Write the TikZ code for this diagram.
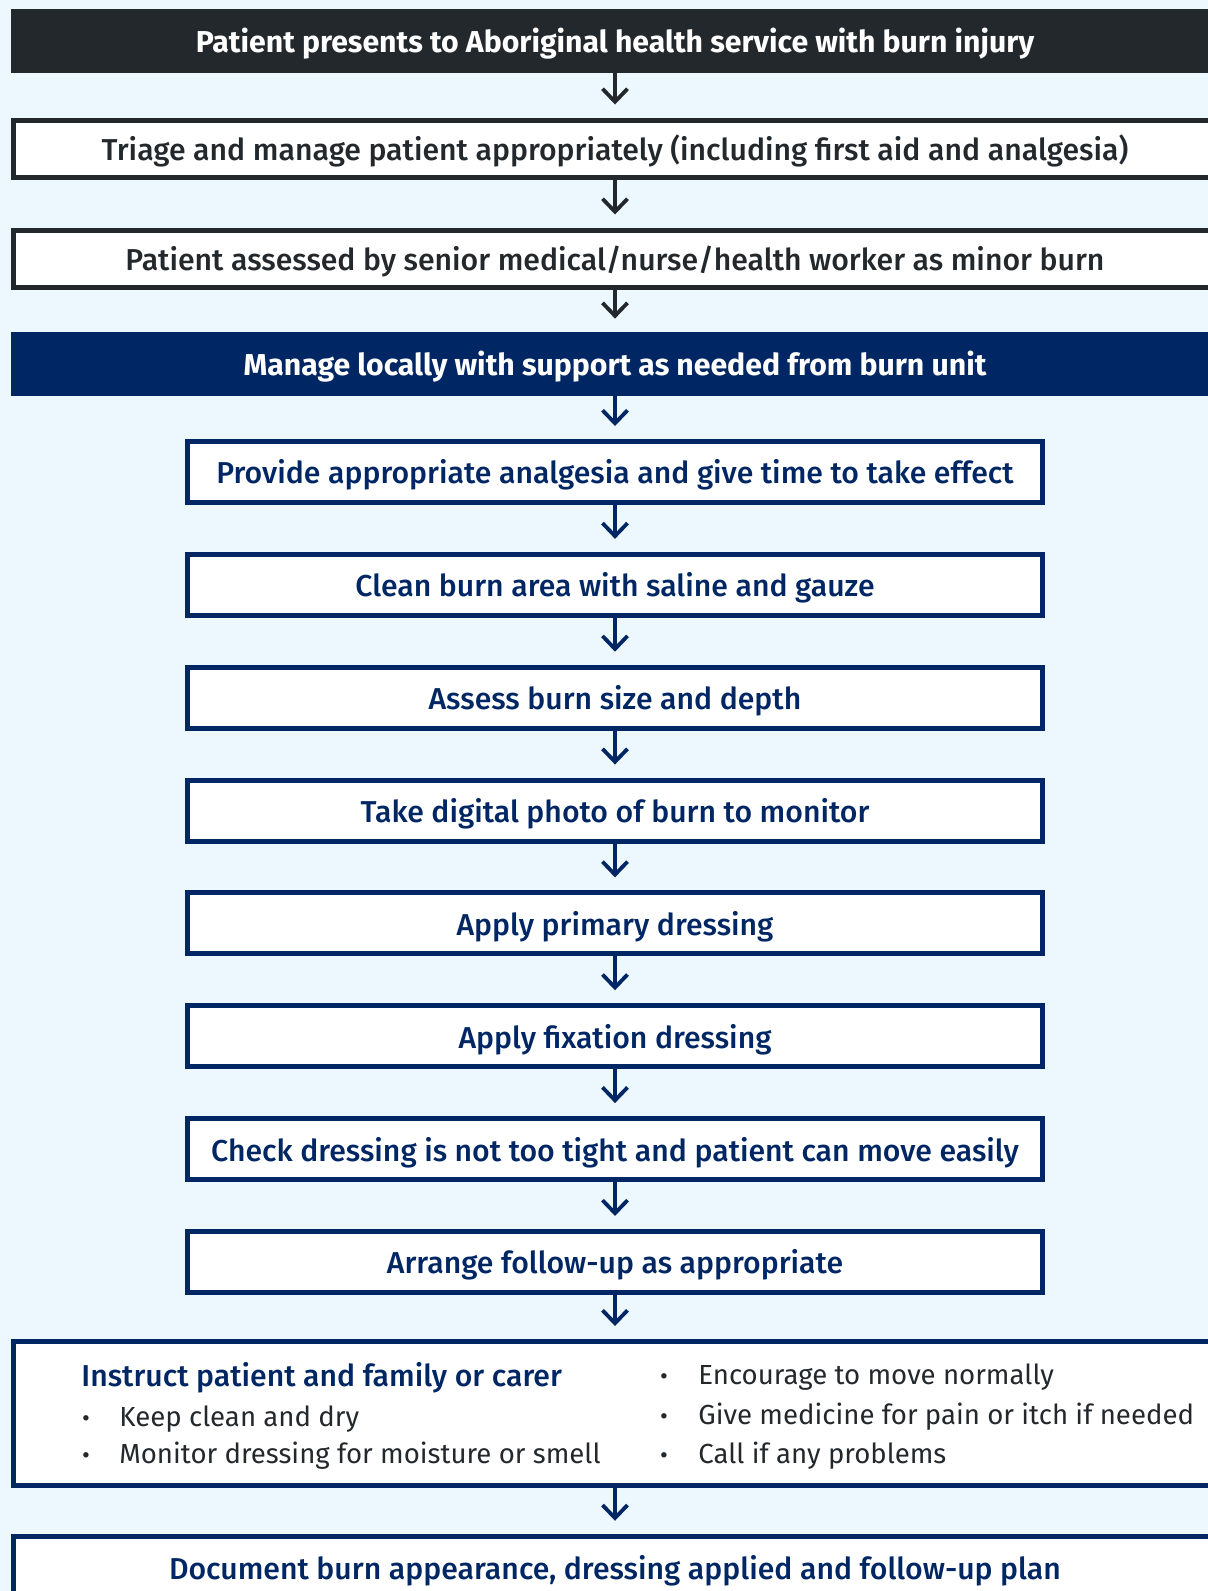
\documentclass[tikz,border=0pt]{standalone}
\usepackage{fontspec}
\setmainfont{Fira Sans}
\newfontfamily\medfont{Fira Sans Medium}
\usetikzlibrary{arrows.meta,positioning}

\definecolor{dark}{RGB}{35,40,45}
\definecolor{navy}{RGB}{0,38,100}
\definecolor{paleblue}{RGB}{236,247,254}

\tikzset{
	banner/.style={fill=#1, text=white, font=\bfseries\fontsize{15.1}{18}\selectfont,
		text height=11.9pt, text depth=0pt,
		minimum width=604pt, minimum height=32pt, inner sep=0pt},
	widebox/.style={draw=#1, line width=2.5pt, fill=white, text=#1,
		font=\medfont\fontsize{15.1}{18}\selectfont, text height=11.9pt, text depth=0pt,
		minimum width=601.5pt, minimum height=28.5pt, inner sep=0pt},
	stepbox/.style={draw=navy, line width=2.5pt, fill=white, text=navy,
		font=\medfont\fontsize{15.1}{18}\selectfont, text height=11.9pt, text depth=0pt,
		minimum width=427.5pt, minimum height=30.5pt, inner sep=0pt},
	flow/.style={line width=1.9pt, -{Straight Barb[length=6.5pt, width=12.5pt, line width=1.9pt]},
		shorten >=6.5pt},
	item/.style={anchor=west, inner sep=0pt, text=dark, font=\fontsize{13.8}{16}\selectfont,
		text height=11.5pt, text depth=0pt},
	dot/.style={anchor=center, inner sep=0pt, text=dark, font=\fontsize{12}{13}\selectfont,
		yshift=-3.2pt},
}

\begin{document}
\begin{tikzpicture}[x=0.5pt, y=-0.5pt]
	\fill[paleblue] (0,0) rectangle (1208,1591);
	\useasboundingbox (0,0) rectangle (1208,1591);

	\node[banner=dark] (present) at (615,41) {Patient presents to Aboriginal health service with burn injury};
	\node[widebox=dark] (triage) at (615,148.5) {Triage and manage patient appropriately (including first aid and analgesia)};
	\node[widebox=dark] (assess) at (615,258.5) {Patient assessed by senior medical/nurse/health worker as minor burn};
	\node[banner=navy] (local) at (615,364) {Manage locally with support as needed from burn unit};

	\node[stepbox] (analg) at (615,472) {Provide appropriate analgesia and give time to take effect};
	\node[stepbox] (clean) at (615,584.85) {Clean burn area with saline and gauze};
	\node[stepbox] (size) at (615,697.7) {Assess burn size and depth};
	\node[stepbox] (photo) at (615,810.55) {Take digital photo of burn to monitor};
	\node[stepbox] (primary) at (615,923.4) {Apply primary dressing};
	\node[stepbox] (fixation) at (615,1036.25) {Apply fixation dressing};
	\node[stepbox] (check) at (615,1149.1) {Check dressing is not too tight and patient can move easily};
	\node[stepbox] (follow) at (615,1261.95) {Arrange follow-up as appropriate};

	% instructions box
	\node[widebox=navy, minimum height=72pt] (instruct) at (615,1413.5) {};
	\node[anchor=west, inner sep=0pt, text=navy, font=\medfont\fontsize{15.1}{18}\selectfont,
		text height=11.9pt, text depth=0pt] (insthead) at (81,1375) {Instruct patient and family or carer};
	\node[dot] (d1) at (86,1415) {•};
	\node[item] (i1) at (119,1415) {Keep clean and dry};
	\node[dot] (d2) at (86,1452) {•};
	\node[item] (i2) at (119,1452) {Monitor dressing for moisture or smell};
	\node[dot] (d3) at (664,1373) {•};
	\node[item] (i3) at (698,1373) {Encourage to move normally};
	\node[dot] (d4) at (664,1413) {•};
	\node[item] (i4) at (698,1413) {Give medicine for pain or itch if needed};
	\node[dot] (d5) at (664,1452) {•};
	\node[item] (i5) at (698,1452) {Call if any problems};

	\node[widebox=navy, minimum height=31.75pt] (document) at (615,1568) {Document burn appearance, dressing applied and follow-up plan};

	\draw[flow, dark] (present) -- (triage);
	\draw[flow, dark] (triage) -- (assess);
	\draw[flow, dark] (assess) -- (local);
	\draw[flow, navy] (local) -- (analg);
	\draw[flow, navy] (analg) -- (clean);
	\draw[flow, navy] (clean) -- (size);
	\draw[flow, navy] (size) -- (photo);
	\draw[flow, navy] (photo) -- (primary);
	\draw[flow, navy] (primary) -- (fixation);
	\draw[flow, navy] (fixation) -- (check);
	\draw[flow, navy] (check) -- (follow);
	\draw[flow, navy] (follow) -- (instruct);
	\draw[flow, navy] (instruct) -- (document);
\end{tikzpicture}
\end{document}
